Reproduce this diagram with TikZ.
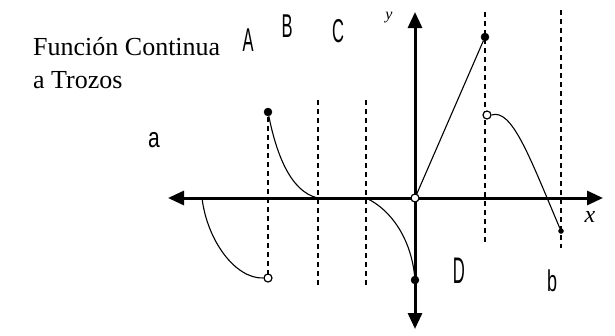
\documentclass[tikz,border=0pt]{standalone}
\usepackage{fontspec}
\setmainfont{Liberation Serif}
\newfontfamily\lab{Liberation Sans}
\usetikzlibrary{arrows.meta}
\tikzset{
  axis/.style={line width=3pt,-{Triangle[length=16pt,width=14pt]}},
  guide/.style={line width=1.6pt,dash pattern=on 5pt off 4pt},
  curve/.style={line width=1.1pt},
  fdot/.style={circle,fill=black,draw=black,inner sep=0pt,minimum size=8pt},
  odot/.style={circle,fill=white,draw=black,line width=1.2pt,inner sep=0pt,minimum size=8pt},
  letter/.style={inner sep=0pt,font=\lab\fontsize{33}{33}\selectfont,xscale=0.5},
}
\begin{document}
\begin{tikzpicture}[x=1pt,y=-1pt]
\useasboundingbox (0,0) rectangle (615,335);
\fill[white] (0,0) rectangle (615,335);
% named points
\coordinate (O) at (415,198);
\coordinate (xl) at (168,198);
\coordinate (xr) at (603,198);
\coordinate (yt) at (415,12);
\coordinate (yb) at (415,329);
% dashed guides
\coordinate (g1t) at (268,108); \coordinate (g1b) at (268,280);
\coordinate (g2t) at (318,100); \coordinate (g2b) at (318,287);
\coordinate (g3t) at (366,100); \coordinate (g3b) at (366,287);
\coordinate (g4t) at (485,12);  \coordinate (g4b) at (485,244);
\coordinate (g5t) at (561,10);  \coordinate (g5b) at (561,248);
\draw[guide] (g1t) -- (g1b);
\draw[guide] (g2t) -- (g2b);
\draw[guide] (g3t) -- (g3b);
\draw[guide] (g4t) -- (g4b);
\draw[guide] (g5t) -- (g5b);
% axes
\draw[axis] (O) -- (xl);
\draw[axis] (O) -- (xr);
\draw[axis] (O) -- (yt);
\draw[axis] (O) -- (yb);
% points of the function
\coordinate (p1) at (202,198);
\node[odot] (p2) at (268,278) {};
\node[fdot] (p3) at (268,112) {};
\coordinate (p4) at (318,198);
\coordinate (p5) at (366,198);
\node[fdot] (p6) at (415,280) {};
\node[fdot] (p7) at (485,37) {};
\node[odot] (p8) at (487,115) {};
\node[fdot,minimum size=5pt] (p9) at (561,231) {};
% pieces
\draw[curve] (p1) .. controls (207,240) and (235,279) .. (p2.west);
\draw[curve] (p3) .. controls (276,152) and (290,192) .. (p4);
\draw[curve] (p5) .. controls (392,210) and (411,240) .. (p6);
\draw[curve] (O) -- (p7);
\draw[curve] (p8.east) .. controls (512,108) and (530,158) .. (p9);
\node[odot] (o) at (O) {};
% texts
\node[anchor=base west,inner sep=0pt,font=\fontsize{26}{30}\selectfont] (t1) at (33,55) {Función Continua};
\node[anchor=base west,inner sep=0pt,font=\fontsize{26}{30}\selectfont] (t2) at (33,88) {a Trozos};
\node[letter] (lA) at (248,40) {A};
\node[letter] (lB) at (287,26) {B};
\node[letter] (lC) at (338,31) {C};
\node[letter,font=\lab\fontsize{37}{37}\selectfont,xscale=0.9] (lD) at (459,271) {D};
\node[letter,font=\lab\fontsize{28}{28}\selectfont,xscale=1.5] (la) at (154,140) {a};
\node[letter,font=\lab\fontsize{30}{30}\selectfont,xscale=1.2] (lb) at (552,281) {b};
\node[inner sep=0pt,font=\itshape\fontsize{16}{16}\selectfont] (ly) at (389,18) {y};
\node[inner sep=0pt,font=\itshape\fontsize{24}{24}\selectfont] (lx) at (590,217) {x};
\end{tikzpicture}
\end{document}
